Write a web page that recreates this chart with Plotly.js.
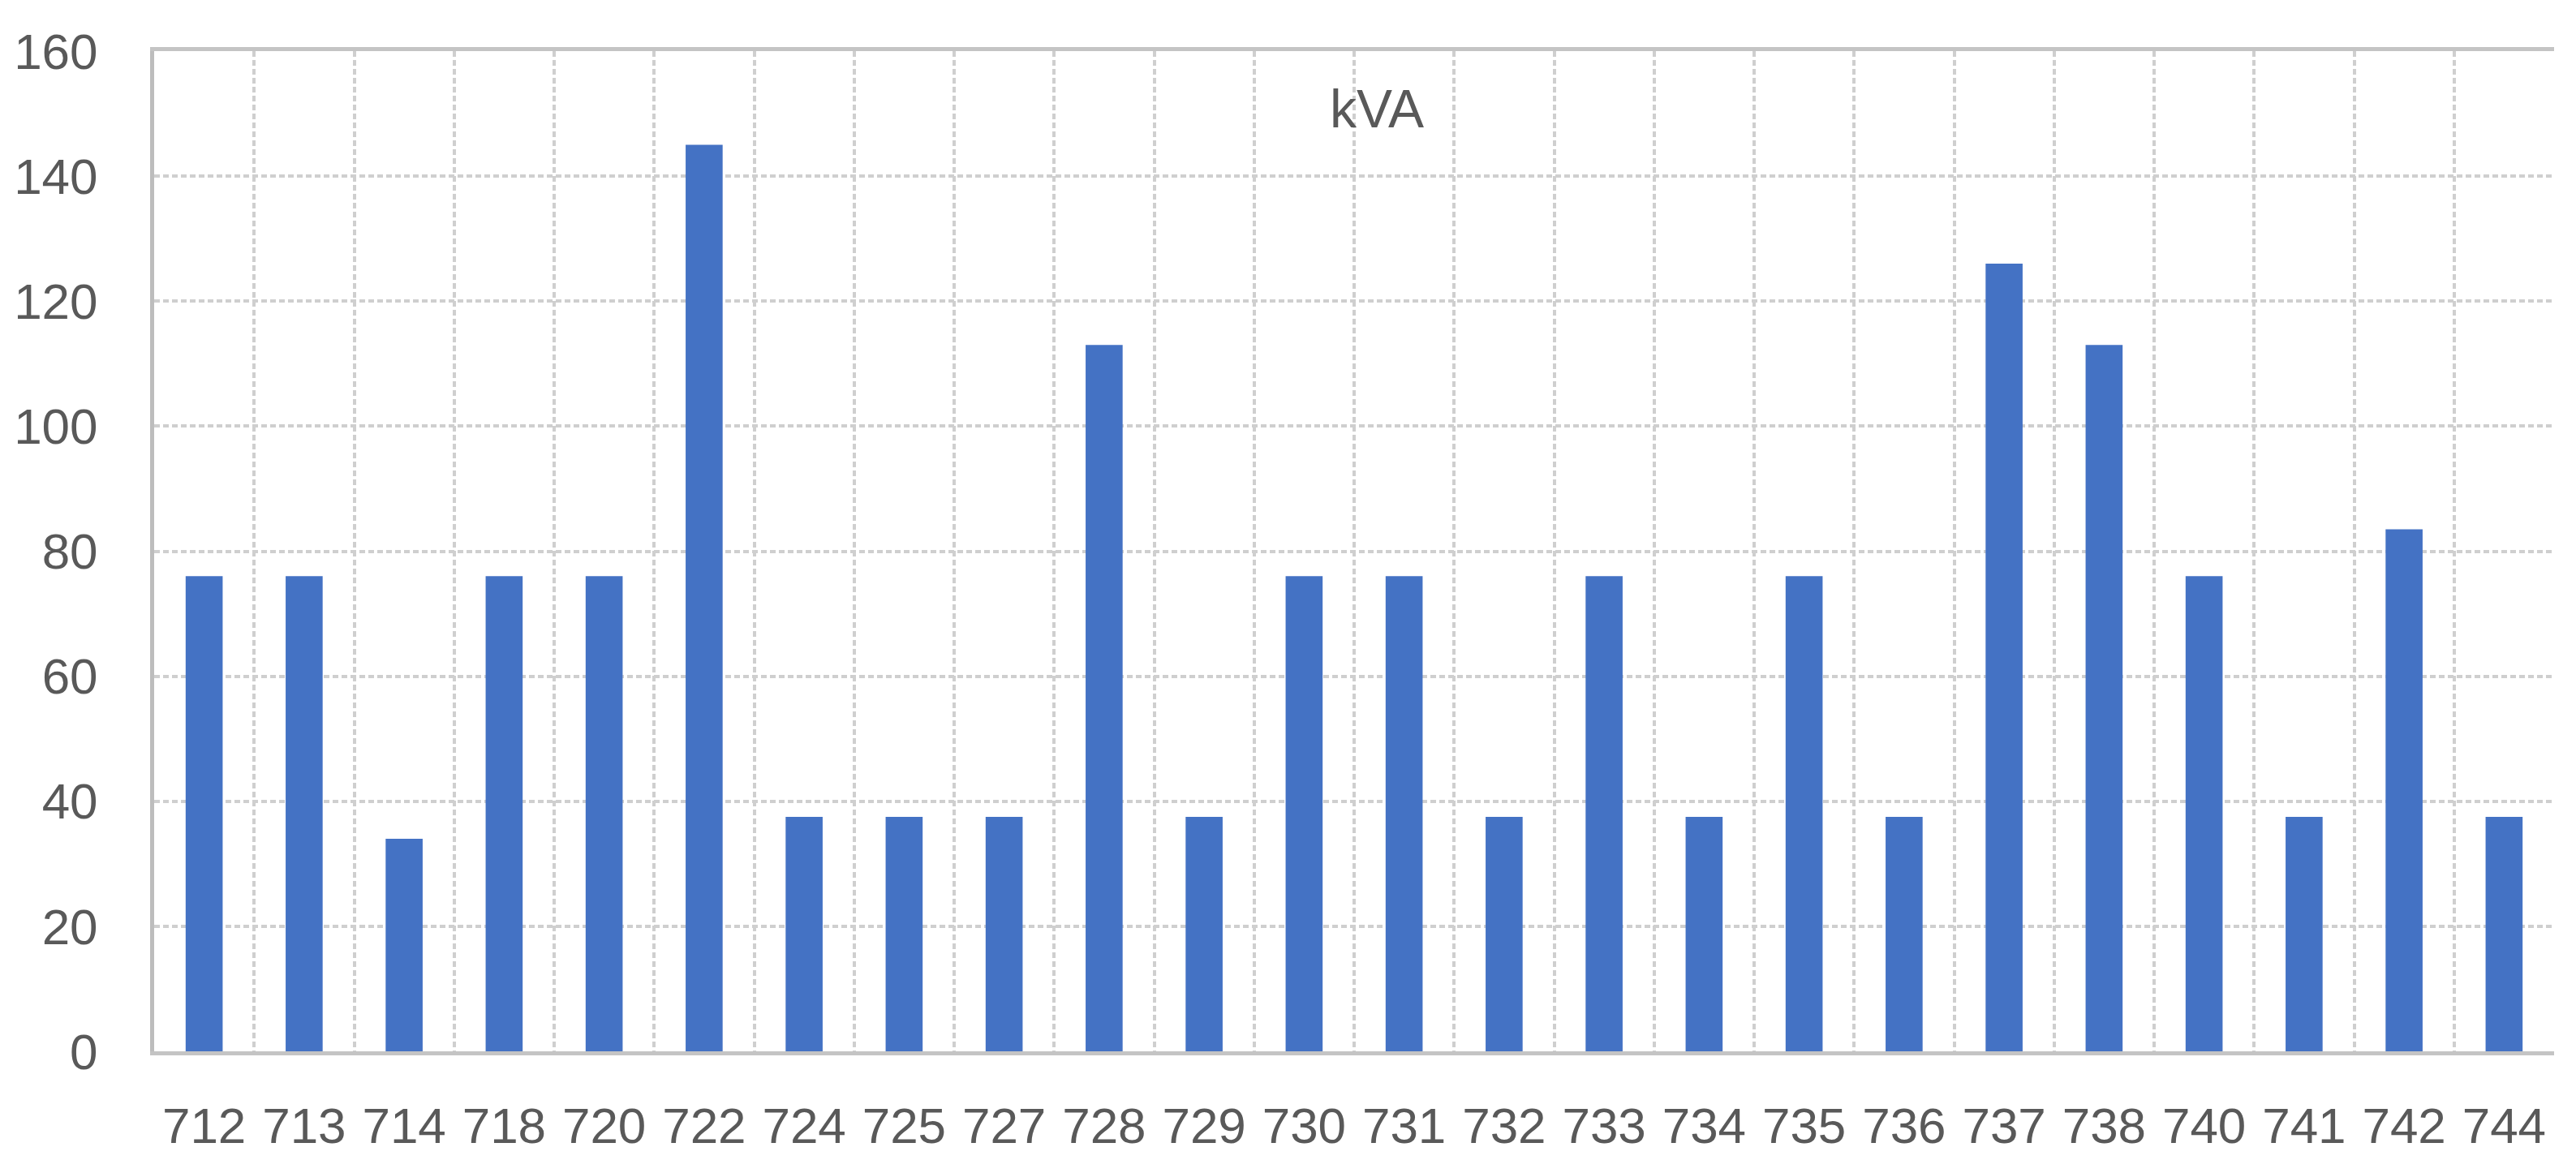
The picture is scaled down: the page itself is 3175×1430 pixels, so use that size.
<!DOCTYPE html>
<html>
<head>
<meta charset="utf-8">
<script src="https://cdn.plot.ly/plotly-3.0.1.min.js"></script>
<style>
  html, body { margin: 0; padding: 0; background: #ffffff; }
  #chart { width: 3175px; height: 1430px; }
</style>
</head>
<body>
<div id="chart"></div>
<script>
const categories = ["712","713","714","718","720","722","724","725","727","728","729","730","731","732","733","734","735","736","737","738","740","741","742","744"];
const kva = [76, 76, 34, 76, 76, 145, 37.5, 37.5, 37.5, 113, 37.5, 76, 76, 37.5, 76, 37.5, 76, 37.5, 126, 113, 76, 37.5, 83.5, 37.5];
const seriesName = "kVA";
const yTicks = [0, 20, 40, 60, 80, 100, 120, 140, 160];

const fontFamily = "Liberation Sans, Arial, sans-serif";

const trace = {
  type: "bar",
  x: categories,
  y: kva,
  name: seriesName,
  marker: { color: "#4472C4", line: { width: 0 } },
  hoverinfo: "x+y"
};

const layout = {
  width: 3175,
  height: 1430,
  paper_bgcolor: "#ffffff",
  plot_bgcolor: "#ffffff",
  margin: { l: 190, r: 27, t: 63, b: 134, pad: 0 },
  showlegend: false,
  bargap: 0.63,
  font: { family: fontFamily, color: "#595959", size: 62 },
  title: {
    text: seriesName,
    font: { family: fontFamily, size: 66, color: "#595959" },
    x: 1697 / 3175,
    xref: "container",
    xanchor: "center",
    y: 1 - 134 / 1430,
    yref: "container",
    yanchor: "middle"
  },
  xaxis: {
    type: "category",
    tickson: "boundaries",
    showgrid: true,
    gridcolor: "#cfcfcf",
    gridwidth: 4,
    griddash: "7px,4px",
    showline: true,
    linecolor: "#c4c4c4",
    linewidth: 5,
    mirror: true,
    ticks: "",
    tickfont: { family: fontFamily, size: 62, color: "#595959" },
    ticklabelstandoff: 34,
    zeroline: false,
    fixedrange: true
  },
  yaxis: {
    range: [0, 160],
    tickvals: yTicks,
    ticktext: yTicks.map(String),
    showgrid: true,
    gridcolor: "#cfcfcf",
    gridwidth: 4,
    griddash: "7px,4px",
    showline: true,
    linecolor: "#bdbdbd",
    linewidth: 5,
    mirror: false,
    ticks: "",
    tickfont: { family: fontFamily, size: 62, color: "#595959" },
    ticklabelstandoff: 52,
    zeroline: false,
    fixedrange: true
  }
};

Plotly.newPlot("chart", [trace], layout, { displayModeBar: false, staticPlot: true });
</script>
</body>
</html>
